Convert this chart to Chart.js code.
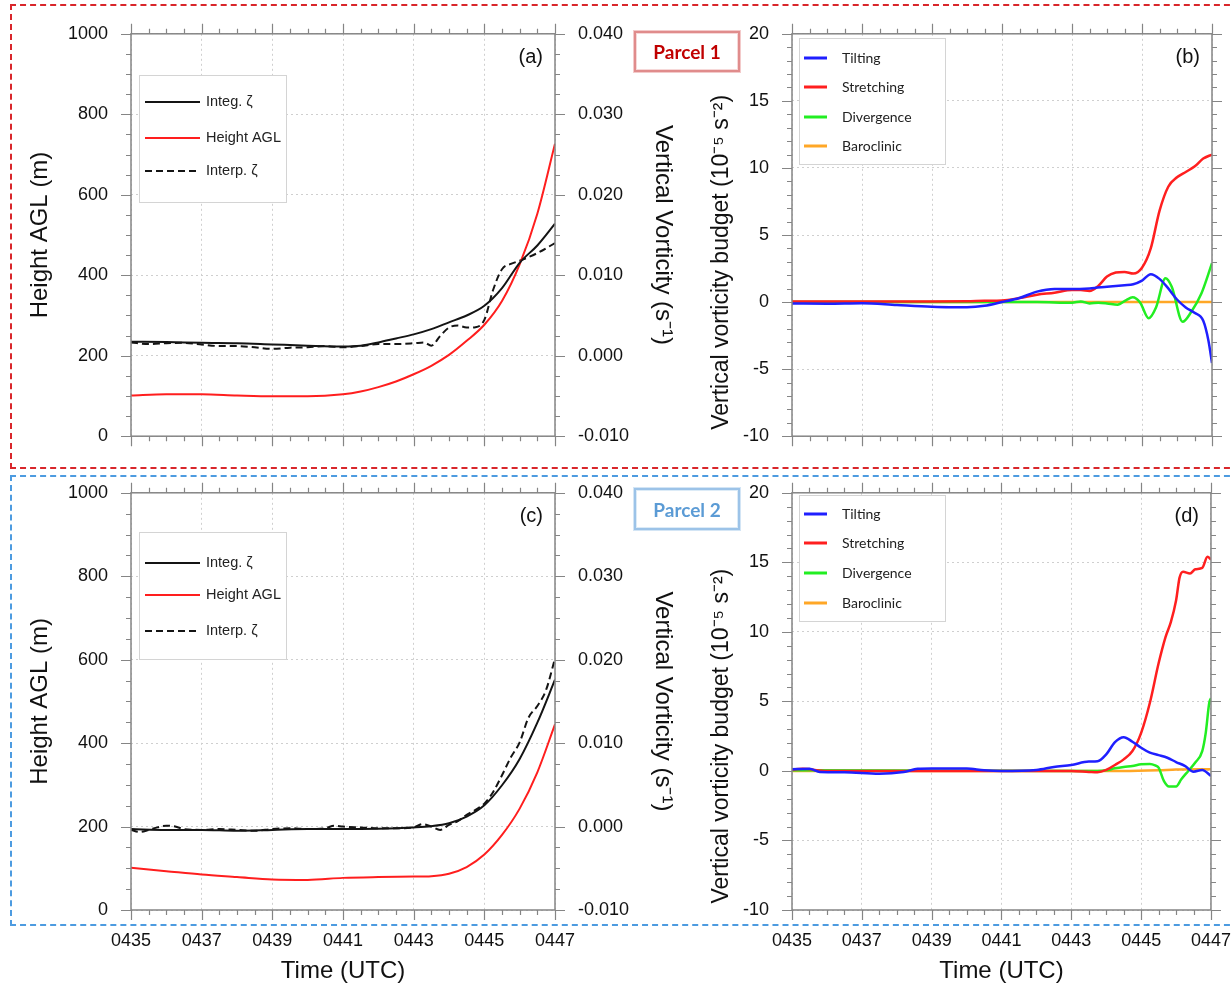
<!DOCTYPE html>
<html>
<head>
<meta charset="utf-8">
<script src="https://cdn.jsdelivr.net/npm/chart.js@4.4.0/dist/chart.umd.min.js"></script>
<style>
  html, body { margin: 0; padding: 0; background: #fff; overflow: hidden; width: 1231px; height: 984px; }
  canvas { position: absolute; }
  .frame { position: absolute; box-sizing: border-box; }
  .tag {
    position: absolute; box-sizing: border-box; background: #fff;
    display: flex; align-items: center; justify-content: center;
    font: bold 19px Lato, "Open Sans", sans-serif; z-index: 5;
  }
</style>
</head>
<body>
<div class="frame" style="left:10px;top:4px;width:1240px;height:465px;border:2px dashed #d9262b"></div>
<div class="frame" style="left:10px;top:475px;width:1240px;height:451px;border:2px dashed #4d9be0"></div>

<canvas id="cA" width="680" height="470" style="left:0;top:0"></canvas>
<canvas id="cB" width="571" height="470" style="left:680px;top:0"></canvas>
<canvas id="cC" width="680" height="527" style="left:0;top:459px"></canvas>
<canvas id="cD" width="571" height="527" style="left:680px;top:459px"></canvas>

<div class="tag" style="left:634px;top:31px;width:106px;height:41px;border:2px solid #e08c8c;box-shadow:0 0 0 1px #f3caca, inset 0 0 0 1px #f6d8d8;color:#c00000">Parcel 1</div>
<div class="tag" style="left:634px;top:488px;width:106px;height:42px;border:2px solid #9cc3e8;box-shadow:0 0 0 1px #d3e5f5, inset 0 0 0 1px #dcebf7;color:#5b9bd5">Parcel 2</div>

<script>
const FONT = '"Liberation Sans", Arial, Helvetica, sans-serif';

// time in minutes after 0435 UTC
// (a) parcel 1
const tA = [0, 1, 2, 3, 4, 5, 6, 6.5, 7, 7.5, 8, 8.5, 9, 9.5, 10, 10.5, 11, 11.5, 12];
const heightA = [101, 104, 104, 101, 99, 99, 104, 111, 122, 136, 154, 175, 202, 237, 277, 336, 427, 553, 727];
const integA = [0.00175, 0.0017, 0.0016, 0.00155, 0.0014, 0.00125, 0.00115, 0.00125, 0.00165, 0.00215,
  0.00265, 0.0033, 0.00415, 0.005, 0.0062, 0.0084, 0.01155, 0.0137, 0.0164];
const tInterpA = [0, 0.5, 1, 1.5, 2, 2.5, 3, 3.5, 4, 4.5, 5, 5.5, 6, 6.5, 7, 7.5, 8, 8.3, 8.5, 8.75,
  9, 9.25, 9.5, 9.75, 10, 10.25, 10.5, 10.75, 11, 11.5, 12];
const interpA = [0.00165, 0.00145, 0.00155, 0.0016, 0.0014, 0.0012, 0.0012, 0.00105, 0.00085, 0.001,
  0.00105, 0.0012, 0.00105, 0.0012, 0.00145, 0.00145, 0.00155, 0.00165, 0.00125, 0.00245,
  0.0035, 0.00375, 0.0035, 0.00355, 0.00445, 0.0082, 0.01075, 0.0114, 0.0118, 0.01275, 0.014];

// (c) parcel 2
const tC = [0, 1, 2, 3, 4, 5, 6, 7, 8, 8.5, 9, 9.5, 10, 10.5, 11, 11.5, 12];
const heightC = [101, 93, 85, 79, 73, 72, 77, 79, 80, 81, 87, 103, 133, 180, 243, 330, 445];
const integC = [-0.0003, -0.0004, -0.0004, -0.0005, -0.0004, -0.0003, -0.0003, -0.00025, -0.0001, 0.00005,
  0.0004, 0.0012, 0.00255, 0.00495, 0.0081, 0.01245, 0.0176];
const tInterpC = [0, 0.25, 0.5, 0.75, 1, 1.25, 1.5, 2, 2.5, 3, 3.5, 4, 4.5, 5, 5.5, 5.75, 6, 6.5, 7, 7.5,
  8, 8.25, 8.5, 8.75, 9, 9.25, 9.5, 9.75, 10, 10.25, 10.5, 10.75, 11, 11.25, 11.5, 11.75, 12];
const interpC = [-0.0004, -0.00065, -0.0004, -0.0001, 0.0001, 0, -0.0003, -0.0004, -0.0003, -0.0004,
  -0.0005, -0.0003, -0.0002, -0.0003, -0.0002, 0.0001, 0, -0.0001, -0.0002, -0.0002,
  -0.0001, 0.0003, 0, -0.0004, 0.0002, 0.00065, 0.0014, 0.002, 0.00275, 0.00415,
  0.00615, 0.0083, 0.0101, 0.01305, 0.01445, 0.0164, 0.02015];

// (b) parcel 1 budget terms (1e-5 s^-2)
const tTiltB = [0, 1, 2, 3, 4, 4.5, 5, 5.5, 6, 6.5, 7, 7.5, 8, 8.5, 9, 9.5, 9.75, 10, 10.25, 10.5, 10.75, 11, 11.25, 11.5, 11.75, 11.9, 12];
const tiltB = [-0.1, -0.12, -0.08, -0.22, -0.35, -0.38, -0.38, -0.28, 0, 0.3, 0.78, 0.97, 0.97, 1.02, 1.14, 1.26, 1.33, 1.6, 2.08, 1.73, 1.02, 0.19, -0.4, -0.8, -1.4, -2.9, -4.55];
const tStretchB = [0, 2, 4, 5, 5.5, 6, 6.5, 7, 7.5, 8, 8.25, 8.5, 8.75, 9, 9.25, 9.5, 9.75, 10, 10.25, 10.5, 10.75, 11, 11.25, 11.5, 11.75, 12];
const stretchB = [0.05, 0.05, 0.05, 0.06, 0.1, 0.12, 0.3, 0.55, 0.7, 0.9, 0.9, 0.83, 1.2, 1.9, 2.2, 2.25, 2.13, 2.56, 4.0, 6.8, 8.6, 9.3, 9.7, 10.1, 10.7, 11.0];
const tDivB = [0, 3, 6, 7, 8, 8.25, 8.5, 8.75, 9, 9.3, 9.55, 9.73, 9.95, 10.19, 10.4, 10.67, 10.85, 11.16, 11.4, 11.7, 12];
const divB = [0, 0, 0, 0, -0.05, 0.05, -0.1, -0.05, -0.1, -0.2, 0.15, 0.35, -0.05, -1.2, -0.4, 1.78, 1.14, -1.47, -0.76, 0.66, 2.9];
const tBaroB = [0, 12];
const baroB = [0, 0];

// (d) parcel 2 budget terms
const tTiltD = [0, 0.5, 0.8, 1.5, 2.5, 3.2, 3.6, 4, 5, 5.5, 6, 7, 7.5, 8, 8.5, 8.75, 9, 9.25, 9.5, 9.75, 10, 10.25, 10.5, 10.75, 11, 11.25, 11.5, 11.75, 12];
const tiltD = [0.12, 0.15, -0.08, -0.1, -0.2, -0.07, 0.15, 0.18, 0.17, 0.05, 0, 0.07, 0.29, 0.43, 0.67, 0.69, 1.19, 2.07, 2.43, 2.1, 1.67, 1.31, 1.14, 0.95, 0.64, 0.36, -0.05, 0.07, -0.36];
const tStretchD = [0, 0.3, 1, 3, 6, 8, 8.5, 8.75, 9, 9.25, 9.5, 9.75, 10, 10.25, 10.5, 10.7, 10.85, 11, 11.1, 11.2, 11.4, 11.55, 11.75, 11.9, 12];
const stretchD = [0.1, 0.15, 0, 0, 0, 0, -0.07, -0.1, 0.07, 0.43, 0.83, 1.43, 2.74, 4.9, 7.74, 9.64, 10.7, 12.26, 13.9, 14.33, 14.2, 14.5, 14.6, 15.4, 15.2];
const tDivD = [0, 8.75, 9, 9.25, 9.5, 9.75, 10, 10.25, 10.4, 10.5, 10.65, 10.8, 11, 11.15, 11.35, 11.55, 11.75, 11.85, 11.95, 12];
const divD = [0.05, 0, 0.05, 0.19, 0.29, 0.36, 0.48, 0.5, 0.4, 0.24, -0.71, -1.12, -1.12, -0.6, 0, 0.6, 1.43, 2.74, 4.88, 5.24];
const tBaroD = [0, 9.5, 10.5, 11, 12];
const baroD = [0, 0, 0.05, 0.1, 0.12];

const pts = (ts, vs) => ts.map((t, i) => ({x: t, y: vs[i]}));

// frame + outward major/minor tick marks on all four sides
const frameTicks = {
  id: 'frameTicks',
  afterDraw(chart, args, o) {
    const {ctx, chartArea: a, scales} = chart;
    const x = scales.x, y = scales.y;
    ctx.save();
    ctx.strokeStyle = '#858585';
    ctx.lineWidth = 1.5;
    ctx.strokeRect(a.left, a.top, a.right - a.left, a.bottom - a.top);
    ctx.lineWidth = 1.2;
    ctx.beginPath();
    for (let v = x.min; v <= x.max + 1e-9; v += o.xMinor) {
      let major = Math.abs(v / o.xMajor - Math.round(v / o.xMajor)) < 1e-6;
      let len = major ? 10 : 5;
      let px = Math.round(x.getPixelForValue(v)) + 0.5;
      ctx.moveTo(px, a.bottom); ctx.lineTo(px, a.bottom + len);
      ctx.moveTo(px, a.top); ctx.lineTo(px, a.top - len);
    }
    for (let v = y.min; v <= y.max + 1e-9; v += o.yMinor) {
      let major = Math.abs(v / o.yMajor - Math.round(v / o.yMajor)) < 1e-6;
      let len = major ? 10 : 5;
      let py = Math.round(y.getPixelForValue(v)) + 0.5;
      ctx.moveTo(a.left, py); ctx.lineTo(a.left - len, py);
      ctx.moveTo(a.right, py); ctx.lineTo(a.right + len, py);
    }
    ctx.stroke();
    ctx.restore();
  }
};

// boxed legend inside the plot and panel letter
const boxLegend = {
  id: 'boxLegend',
  afterDatasetsDraw(chart, args, o) {
    const ctx = chart.ctx;
    const [bx, by, bw, bh] = o.box;
    ctx.save();
    ctx.fillStyle = '#fff';
    ctx.fillRect(bx, by, bw, bh);
    ctx.strokeStyle = '#d4d4d4';
    ctx.lineWidth = 1;
    ctx.strokeRect(bx + 0.5, by + 0.5, bw, bh);
    chart.data.datasets.forEach((ds, i) => {
      let yy = o.rows[i];
      ctx.strokeStyle = ds.borderColor;
      ctx.lineWidth = o.lineWidth;
      ctx.setLineDash(ds.borderDash || []);
      ctx.beginPath();
      ctx.moveTo(o.line[0], yy);
      ctx.lineTo(o.line[1], yy);
      ctx.stroke();
      ctx.setLineDash([]);
      ctx.fillStyle = '#222';
      ctx.font = o.font;
      ctx.textBaseline = 'middle';
      ctx.textAlign = 'left';
      ctx.fillText(ds.label, o.textX, yy);
    });
    ctx.fillStyle = '#111';
    ctx.font = '20px ' + FONT;
    ctx.textAlign = 'right';
    ctx.textBaseline = 'middle';
    ctx.fillText(o.tag, chart.chartArea.right - 12, chart.chartArea.top + 24);
    ctx.restore();
  }
};

const gridStyle = {color: '#cfcfcf', lineWidth: 1, drawTicks: false};
const noBorder = {display: false, dash: [2, 3]};
const titleFont = {size: 24, family: FONT};
const tickFont = {size: 18, family: FONT};

function timeAxis(bottomRow) {
  return {
    type: 'linear', min: 0, max: 12,
    grid: gridStyle,
    border: noBorder,
    ticks: {
      stepSize: 2, display: bottomRow, padding: 20, color: '#111',
      font: tickFont,
      callback: v => '04' + (35 + v)
    },
    title: {display: bottomRow, text: 'Time (UTC)', color: '#111', font: titleFont, padding: {top: 0, bottom: 0}},
    afterFit: s => { s.height = bottomRow ? 76 : 17; }
  };
}

function line(label, data, color, extra) {
  return Object.assign({
    label: label, data: data, borderColor: color, borderWidth: 2,
    pointRadius: 0, fill: false, cubicInterpolationMode: 'monotone'
  }, extra || {});
}

function heightPanel(id, p) {
  new Chart(document.getElementById(id), {
    type: 'line',
    data: {
      datasets: [
        line('Integ. ζ', pts(p.t, p.integ), '#141414', {yAxisID: 'y2'}),
        line('Height AGL', pts(p.t, p.height), '#ff1e1e', {yAxisID: 'y'}),
        line('Interp. ζ', pts(p.ti, p.interp), '#141414', {yAxisID: 'y2', borderDash: [7, 4]})
      ]
    },
    options: {
      responsive: false, animation: false, events: [],
      layout: {padding: {top: 32, left: 0, right: 0, bottom: 0}},
      scales: {
        x: timeAxis(p.bottomRow),
        y: {
          position: 'left', min: 0, max: 1000,
          grid: gridStyle, border: noBorder,
          ticks: {stepSize: 200, padding: 23, color: '#111', font: tickFont, callback: v => String(v)},
          title: {display: true, text: 'Height AGL (m)', color: '#111', font: titleFont, padding: {top: 26, bottom: 0}},
          afterFit: s => { s.width = 131; }
        },
        y2: {
          position: 'right', min: -0.01, max: 0.04,
          grid: {drawOnChartArea: false, drawTicks: false}, border: {display: false},
          ticks: {stepSize: 0.01, padding: 23, color: '#111', font: tickFont,
            callback: v => (Math.abs(v) < 1e-9 ? 0 : v).toFixed(3)},
          title: {display: true, text: 'Vertical Vorticity (s⁻¹)', color: '#111', font: titleFont, padding: {top: 3, bottom: 0}},
          afterFit: s => { s.width = 125; }
        }
      },
      plugins: {
        legend: {display: false}, tooltip: {enabled: false},
        frameTicks: {xMinor: 0.5, xMajor: 2, yMinor: 50, yMajor: 200},
        boxLegend: {box: p.box, rows: p.rows, line: [145, 200], textX: 206, lineWidth: 2,
          font: '14.5px ' + FONT, tag: p.tag}
      }
    },
    plugins: [frameTicks, boxLegend]
  });
}

function budgetPanel(id, p) {
  new Chart(document.getElementById(id), {
    type: 'line',
    data: {
      datasets: [
        line('Tilting', pts(p.tTilt, p.tilt), '#1f1fff', {borderWidth: 2.5}),
        line('Stretching', pts(p.tStretch, p.stretch), '#ff1f1f', {borderWidth: 2.5}),
        line('Divergence', pts(p.tDiv, p.div), '#22ee22', {borderWidth: 2.5}),
        line('Baroclinic', pts(p.tBaro, p.baro), '#ffa726', {borderWidth: 2.5})
      ]
    },
    options: {
      responsive: false, animation: false, events: [],
      layout: {padding: {top: 32, left: 0, right: 39, bottom: 0}},
      scales: {
        x: timeAxis(p.bottomRow),
        y: {
          position: 'left', min: -10, max: 20,
          grid: gridStyle, border: noBorder,
          ticks: {stepSize: 5, padding: 23, color: '#111', font: tickFont},
          title: {display: true, align: 'start', text: ' Vertical vorticity budget (10⁻⁵ s⁻²)', color: '#111',
            font: {size: 23, family: FONT}, padding: {top: 28, bottom: 0}},
          afterFit: s => { s.width = 112; }
        }
      },
      plugins: {
        legend: {display: false}, tooltip: {enabled: false},
        frameTicks: {xMinor: 0.5, xMajor: 2, yMinor: 1, yMajor: 5},
        boxLegend: {box: p.box, rows: p.rows, line: [124, 147], textX: 162, lineWidth: 3,
          font: '14px Lato, "Open Sans", sans-serif', tag: p.tag}
      }
    },
    plugins: [frameTicks, boxLegend]
  });
}

heightPanel('cA', {t: tA, height: heightA, integ: integA, ti: tInterpA, interp: interpA,
  bottomRow: false, box: [139, 75, 147, 127], rows: [102, 138, 171], tag: '(a)'});
heightPanel('cC', {t: tC, height: heightC, integ: integC, ti: tInterpC, interp: interpC,
  bottomRow: true, box: [139, 73, 147, 127], rows: [104, 136, 172], tag: '(c)'});
budgetPanel('cB', {tTilt: tTiltB, tilt: tiltB, tStretch: tStretchB, stretch: stretchB,
  tDiv: tDivB, div: divB, tBaro: tBaroB, baro: baroB,
  bottomRow: false, box: [119, 38, 146, 126], rows: [58, 87, 117, 146], tag: '(b)'});
budgetPanel('cD', {tTilt: tTiltD, tilt: tiltD, tStretch: tStretchD, stretch: stretchD,
  tDiv: tDivD, div: divD, tBaro: tBaroD, baro: baroD,
  bottomRow: true, box: [119, 36, 146, 126], rows: [55, 84, 114, 144], tag: '(d)'});
</script>
</body>
</html>
